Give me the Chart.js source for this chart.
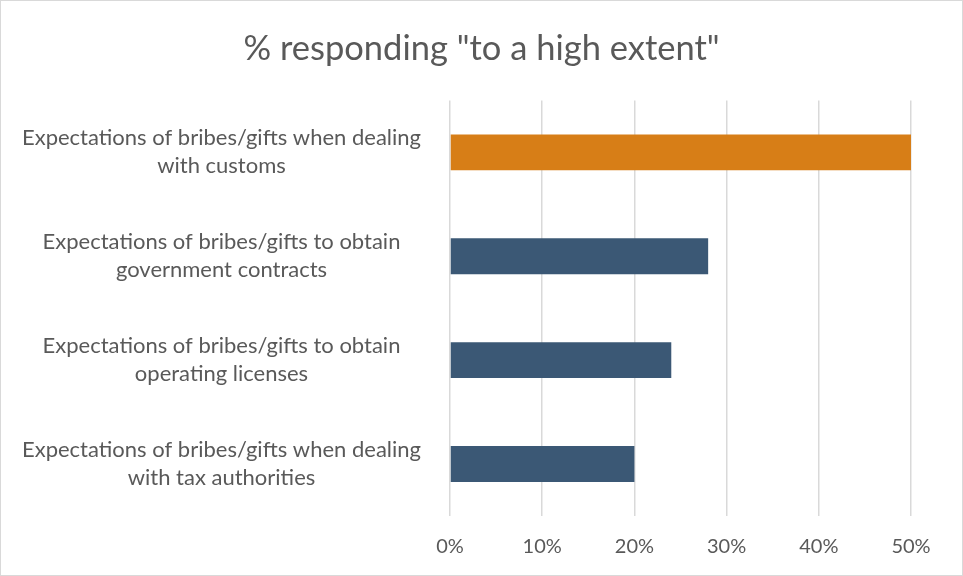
<!DOCTYPE html>
<html>
<head>
<meta charset="utf-8">
<script src="https://cdn.jsdelivr.net/npm/chart.js@4/dist/chart.umd.min.js"></script>
<style>
  html, body { margin: 0; padding: 0; background: #fff; }
  #wrap {
    width: 963px;
    height: 576px;
    box-sizing: border-box;
    border: 1px solid #d9d9d9;
  }
  #chart { display: block; }
</style>
</head>
<body>
<div id="wrap"><canvas id="chart" width="961" height="574"></canvas></div>
<script>
const title = '% responding "to a high extent"';

const categories = [
  ["Expectations of bribes/gifts when dealing", "with customs"],
  ["Expectations of bribes/gifts to obtain", "government contracts"],
  ["Expectations of bribes/gifts to obtain", "operating licenses"],
  ["Expectations of bribes/gifts when dealing", "with tax authorities"]
];
const highExtent = [50, 28, 24, 20];
const barColors = ["#d77e17", "#3b5875", "#3b5875", "#3b5875"];
const xTicks = [0, 10, 20, 30, 40, 50];

const textColor = "#595959";
const fontFamily = "Lato, 'Open Sans', sans-serif";

new Chart(document.getElementById("chart"), {
  type: "bar",
  data: {
    labels: categories,
    datasets: [{
      data: highExtent,
      backgroundColor: barColors,
      borderWidth: 0,
      categoryPercentage: 1,
      barPercentage: 0.346
    }]
  },
  options: {
    indexAxis: "y",
    responsive: false,
    animation: false,
    layout: { padding: 0 },
    plugins: {
      legend: { display: false },
      tooltip: { enabled: false },
      title: {
        display: true,
        text: title,
        color: textColor,
        font: { family: fontFamily, size: 34.5, weight: "normal" },
        padding: { top: 27, bottom: 31 }
      }
    },
    scales: {
      x: {
        min: xTicks[0],
        max: xTicks[xTicks.length - 1],
        afterBuildTicks: (scale) => {
          scale.ticks = xTicks.map((v) => ({ value: v }));
        },
        // fixed height so the plot ends just above the percent labels
        afterFit: (scale) => { scale.height = 59; },
        grid: { color: "#d9d9d9", lineWidth: 1.5, drawTicks: false },
        border: { display: false },
        ticks: {
          color: textColor,
          padding: 19,
          font: { family: fontFamily, size: 20 },
          callback: (v) => v + "%"
        }
      },
      y: {
        afterFit: (scale) => { scale.width = 449; },
        grid: { display: false, drawTicks: false },
        border: { display: false },
        ticks: {
          color: textColor,
          crossAlign: "center",
          padding: 29,
          font: { family: fontFamily, size: 22, lineHeight: 1.27 }
        }
      },
      // empty strip on the right keeps the title centred on the full width
      yRight: {
        position: "right",
        afterFit: (scale) => { scale.width = 51; },
        grid: { display: false, drawTicks: false },
        border: { display: false },
        ticks: { display: false }
      }
    }
  }
});
</script>
</body>
</html>
